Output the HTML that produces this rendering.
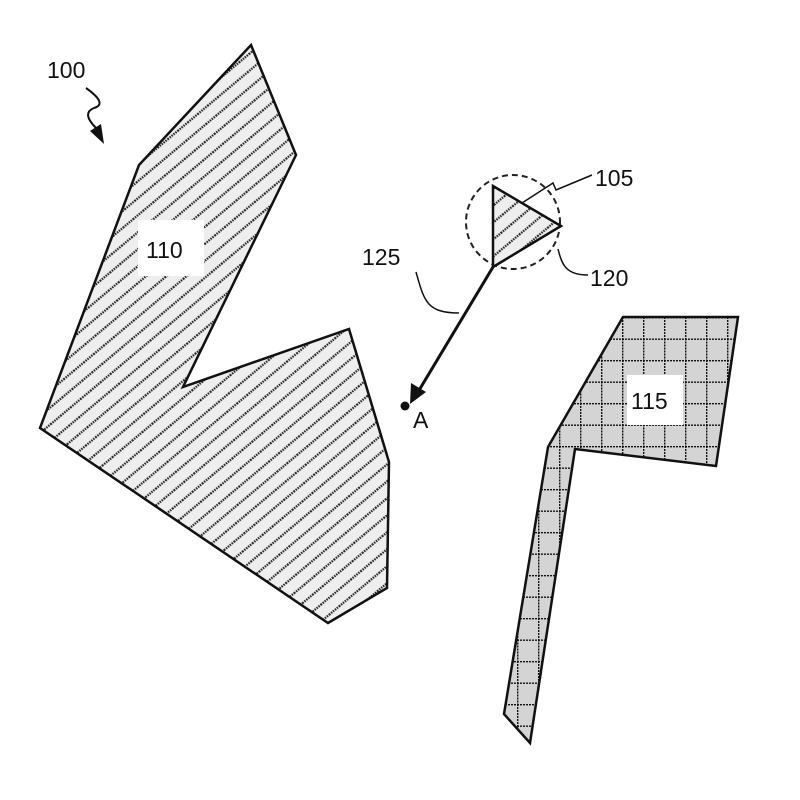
<!DOCTYPE html>
<html><head><style>body{margin:0;background:#fff}svg{display:block}text{font-family:"Liberation Sans",sans-serif;font-size:23px;fill:#111}</style></head>
<body>
<svg width="800" height="800" viewBox="0 0 800 800" xmlns="http://www.w3.org/2000/svg">
<defs>
<pattern id="h" patternUnits="userSpaceOnUse" width="13" height="13" patternTransform="rotate(-40)">
<rect width="13" height="13" fill="#eee"/>
<line x1="0" y1="6.5" x2="13" y2="6.5" stroke="#222" stroke-width="2.2" stroke-dasharray="1.5 1"/>
</pattern>
<pattern id="g" patternUnits="userSpaceOnUse" x="622" y="317" width="21" height="21.5">
<rect width="21" height="21.5" fill="#d4d4d4"/>
<line x1="0" y1="0" x2="21" y2="0" stroke="#111" stroke-width="2.8" stroke-dasharray="2 1"/>
<line x1="0" y1="0" x2="0" y2="21.5" stroke="#111" stroke-width="2.8" stroke-dasharray="2 1"/>
</pattern>
</defs>
<polygon points="251,45 296,155 183,387 349,329 389,462 387,588 328,623 40,428 139,165" fill="url(#h)" stroke="#111" stroke-width="2.5"/>
<rect x="138" y="220" width="66" height="56" fill="#fff"/>
<text x="146" y="258">110</text>
<polygon points="623,317 738,317 716,466 575,449 530,743 504,714 548,447" fill="url(#g)" stroke="#111" stroke-width="2.5"/>
<rect x="627" y="375" width="56" height="50" fill="#fff"/>
<text x="631" y="409">115</text>
<circle cx="513" cy="222" r="47" fill="none" stroke="#222" stroke-width="2" stroke-dasharray="6 4"/>
<polygon points="493,186 561,226 493,267" fill="url(#h)" stroke="#111" stroke-width="2.5"/>
<line x1="493" y1="267" x2="418" y2="392" stroke="#111" stroke-width="3"/>
<polygon points="410,404 411,383 426,392" fill="#111"/>
<circle cx="405" cy="406" r="4.5" fill="#111"/>
<text x="413" y="428">A</text>
<text x="362" y="265">125</text>
<path d="M416,272 C424,300 426,313 459,313" fill="none" stroke="#111" stroke-width="1.5"/>
<text x="595" y="186">105</text>
<path d="M522,203 L553,183 L556,190 L592,175" fill="none" stroke="#111" stroke-width="1.5"/>
<text x="590" y="286">120</text>
<path d="M558,249 C562,265 566,275 588,275" fill="none" stroke="#111" stroke-width="1.5"/>
<text x="47" y="78">100</text>
<path d="M86,88 C100,98 104,105 94,108 C84,112 88,120 96,128" fill="none" stroke="#111" stroke-width="2"/>
<polygon points="104,144 90,131 101,124" fill="#111"/>
</svg>
</body></html>
